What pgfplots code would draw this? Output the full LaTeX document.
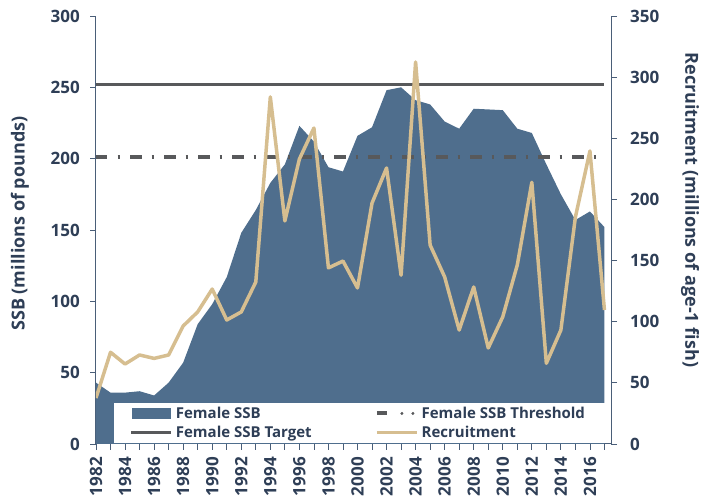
\documentclass[border=0pt]{standalone}
\usepackage{fontspec}
\setmainfont{Open Sans}
\usepackage{pgfplots}
\pgfplotsset{compat=1.18}
\definecolor{ssbcol}{HTML}{4F6E8D}
\definecolor{reccol}{HTML}{D6BE90}
\definecolor{targetcol}{HTML}{58595B}
\definecolor{txtcol}{HTML}{2E3E56}
\definecolor{axiscol}{HTML}{4A5E78}

\pgfplotsset{
  basestyle/.style={
    scale only axis, width=515pt, height=428pt,
    at={(0pt,0pt)}, anchor=south west,
    xmin=1982, xmax=2017.45,
    axis line style={axiscol, line width=1pt},
    tick style={axiscol, line width=0.8pt},
    tick align=outside, major tick length=6pt, minor tick length=6pt,
    /pgf/number format/assume math mode=true,
    /pgf/number format/1000 sep={},
    tick label style={font=\fontsize{17}{20}\selectfont\bfseries, text=txtcol},
    label style={font=\fontsize{18}{21}\selectfont\bfseries, text=txtcol},
  }
}

\begin{document}
\begin{tikzpicture}
\begin{axis}[basestyle,
  ymin=0, ymax=300, ytick={0,50,...,300},
  axis x line*=bottom, axis y line*=left,
  xtick={1982,1984,...,2016}, minor xtick={1983,1985,...,2017},
  xticklabel style={rotate=90, anchor=east, inner sep=0pt, xshift=-7pt},
  yticklabel style={inner sep=0pt, xshift=-10pt},
  ylabel={SSB (millions of pounds)},
  ylabel style={at={(axis description cs:-0.148,0.515)}, anchor=center}]
% Female SSB
\addplot[fill=ssbcol, draw=none] coordinates {
(1982,43) (1983,36) (1984,36) (1985,37) (1986,34) (1987,43) (1988,57)
(1989,84) (1990,98) (1991,117) (1992,148) (1993,164) (1994,183) (1995,196)
(1996,223) (1997,212) (1998,194) (1999,191) (2000,216) (2001,222) (2002,248)
(2003,250) (2004,241) (2005,238) (2006,226) (2007,221) (2008,235) (2009,234.5)
(2010,234) (2011,221) (2012,218) (2013,196) (2014,175) (2015,157) (2016,163)
(2017,152)} \closedcycle;
% Female SSB Target
\addplot[targetcol, line width=3pt] coordinates {(1982,252) (2017,252)};
% Female SSB Threshold
\addplot[targetcol, line width=4pt, dash pattern=on 11.5pt off 10pt on 2.5pt off 10pt]
  coordinates {(1982,201) (2017,201)};
\end{axis}

\begin{axis}[basestyle,
  ymin=0, ymax=350, ytick={0,50,...,350},
  axis x line=none, axis y line*=right,
  yticklabel style={inner sep=0pt, xshift=13pt},
  ylabel={Recruitment (millions of age-1 fish)},
  ylabel style={at={(axis description cs:1.1534,0.547)}, anchor=center, rotate=180},
  legend columns=2,
  legend style={draw=none, fill=white, inner xsep=13pt, inner ysep=4pt,
    at={(axis description cs:0.03495,0.0023)}, anchor=south west,
    font=\fontsize{15}{18}\selectfont\bfseries, text=txtcol,
    nodes={inner sep=0pt}, row sep=6pt,
    /tikz/every odd column/.append style={column sep=3pt},
    /tikz/every even column/.append style={column sep=4pt}}]
\addlegendimage{legend image code/.code={
  \path (0pt,0pt) (44pt,0pt);
  \fill[ssbcol] (5pt,-5pt) rectangle (43pt,5pt);}}
\addlegendentry{\makebox[195pt][l]{Female SSB}}
\addlegendimage{legend image code/.code={
  \path (0pt,0pt) (40pt,0pt);
  \draw[targetcol, line width=4pt] (0pt,0pt) -- (10pt,0pt);
  \fill[targetcol] (25pt,0pt) circle (1.3pt);
  \fill[targetcol] (36pt,0pt) circle (1.3pt);}}
\addlegendentry{\makebox[172pt][l]{Female SSB Threshold}}
\addlegendimage{legend image code/.code={
  \path (0pt,0pt) (44pt,0pt);
  \draw[targetcol, line width=3pt] (4pt,0pt) -- (44pt,0pt);}}
\addlegendentry{\makebox[195pt][l]{Female SSB Target}}
% Recruitment
\addplot[reccol, line width=3.5pt, line join=round,
  legend image code/.code={\draw[reccol, line width=3.5pt] (0pt,0pt) -- (40pt,0pt);}]
  coordinates {
(1982,37.6) (1983,75) (1984,65.4) (1985,72.8) (1986,70) (1987,72.8) (1988,96.5)
(1989,108) (1990,126.7) (1991,101.4) (1992,108) (1993,132.5) (1994,283.8) (1995,182.4)
(1996,233) (1997,258.4) (1998,144) (1999,149.6) (2000,127.6) (2001,197) (2002,225.7)
(2003,138) (2004,312.4) (2005,162.7) (2006,136.6) (2007,93.2) (2008,128.4) (2009,78.5)
(2010,104) (2011,146.4) (2012,214) (2013,66) (2014,93.2) (2015,185.6) (2016,239.6)
(2017,109.6)};
\addlegendentry{\makebox[172pt][l]{Recruitment}}
\end{axis}
\pgfresetboundingbox
\path[use as bounding box] (-96pt,-58pt) rectangle (605pt,444pt);
\end{tikzpicture}
\end{document}
